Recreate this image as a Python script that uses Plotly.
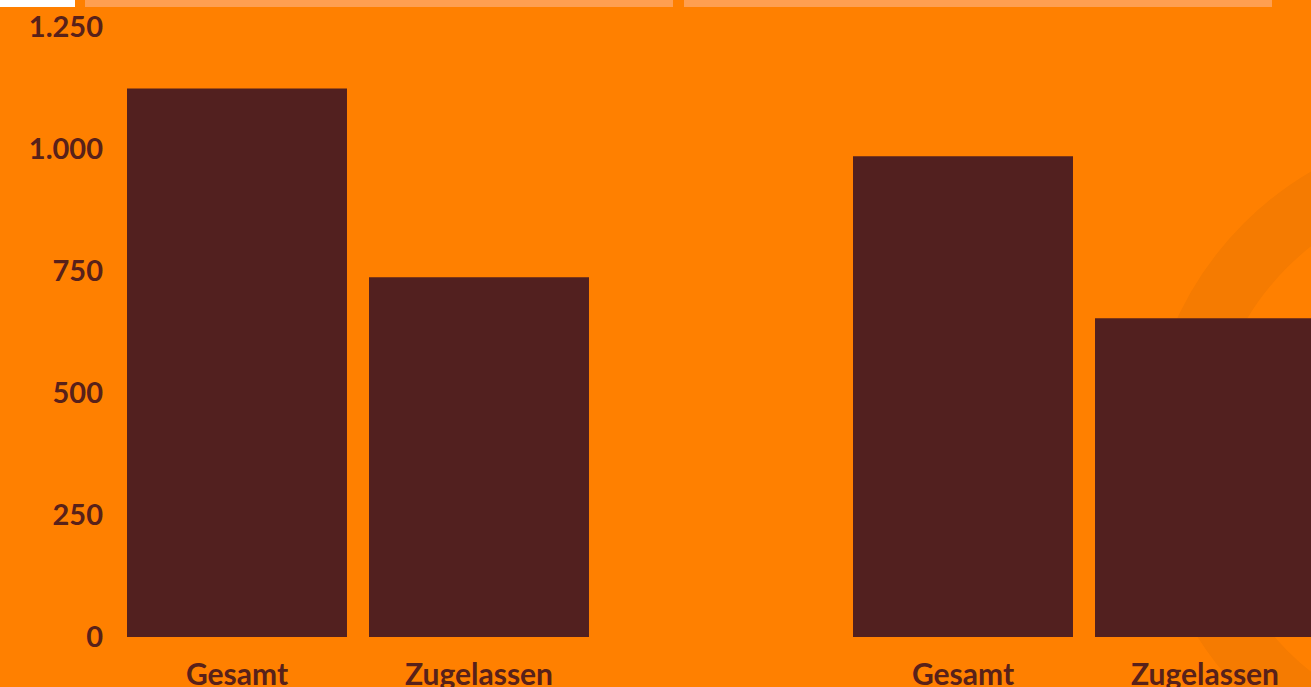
import plotly.graph_objects as go

# ---- data ----
categories = ["Gesamt", "Zugelassen"]
group1_values = [1124, 737]
group2_values = [985, 653]
y_tick_values = [0, 250, 500, 750, 1000, 1250]
y_tick_labels = ["0", "250", "500", "750", "1.000", "1.250"]

BG = "#FF8000"
BAR = "#52201F"
TXT = "#58211A"
FONT = "Lato"

# plot-area geometry in pixels (for paper-coordinate decorations)
W, H = 1311, 687
L, R, T, B = 116, 0, 27, 50
pw, ph = W - L - R, H - T - B

def px_x(p):
    return (p - L) / pw

def px_y(p):
    return (H - B - p) / ph

slot = list(range(len(categories)))
x1 = slot
x2 = [s + len(categories) + 1 for s in slot]

fig = go.Figure()
fig.add_trace(go.Bar(x=x1, y=group1_values, marker_color=BAR, width=0.909,
                     marker_line_width=0, showlegend=False, hoverinfo="skip"))
fig.add_trace(go.Bar(x=x2, y=group2_values, marker_color=BAR, width=0.909,
                     marker_line_width=0, showlegend=False, hoverinfo="skip"))

shapes = []
# decorative ring on the right
cx, cy, r, lw = 1479, 459, 302, 62
shapes.append(dict(type="circle", xref="paper", yref="paper", layer="below",
                   x0=px_x(cx - r), x1=px_x(cx + r), y0=px_y(cy + r), y1=px_y(cy - r),
                   line=dict(color="#F57B01", width=lw), fillcolor="rgba(0,0,0,0)"))
# top strips
shapes.append(dict(type="rect", xref="paper", yref="paper", layer="above",
                   x0=px_x(-2), x1=px_x(75), y0=px_y(7), y1=px_y(-2),
                   fillcolor="#FFFFFF", line_width=0))
for a, b in [(85, 673), (684, 1272)]:
    shapes.append(dict(type="rect", xref="paper", yref="paper", layer="above",
                       x0=px_x(a), x1=px_x(b), y0=px_y(7), y1=px_y(-2),
                       fillcolor="#FF9F50", line_width=0))

fig.update_layout(
    width=W, height=H,
    margin=dict(l=L, r=R, t=T, b=B, pad=0, autoexpand=False),
    paper_bgcolor=BG, plot_bgcolor="rgba(0,0,0,0)",
    font=dict(family=FONT, color=TXT, size=30, weight="bold"),
    shapes=shapes,
    xaxis=dict(range=[-0.5, -0.5 + pw / 242.0], tickvals=x1 + x2,
               ticktext=categories + categories, showgrid=False, zeroline=False,
               showline=False, ticks="", ticklabelstandoff=17, automargin=False,
               tickfont=dict(family=FONT, size=30, color=TXT, weight="bold")),
    yaxis=dict(range=[0, 1250], tickvals=y_tick_values, ticktext=y_tick_labels,
               showgrid=False, zeroline=False, showline=False, ticks="",
               ticklabelstandoff=12, automargin=False,
               tickfont=dict(family=FONT, size=29, color=TXT, weight="bold")),
)

fig.write_html(
    "out.html",
    config={"displayModeBar": False},
    post_script="document.body.style.margin='0';document.body.style.overflow='hidden';",
)
